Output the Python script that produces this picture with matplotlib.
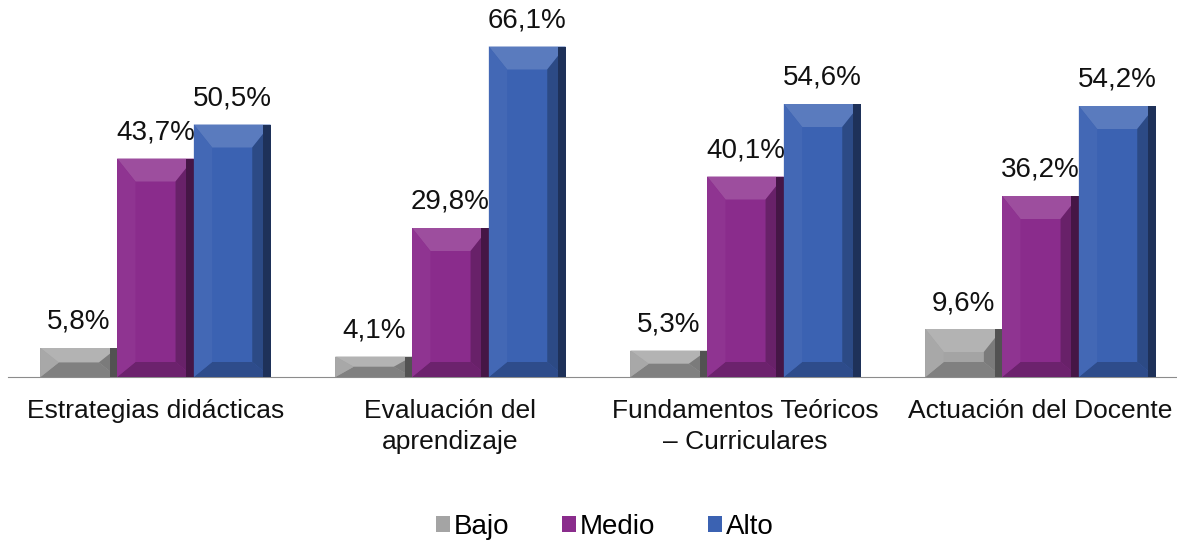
import numpy as np
import matplotlib
matplotlib.use('Agg')
import matplotlib.pyplot as plt
from matplotlib.patches import Polygon, Patch
from matplotlib.colors import to_rgb

# ============================================================
# 数据
# ============================================================
categorias = ['Estrategias didácticas', 'Evaluación del\naprendizaje',
              'Fundamentos Teóricos\n– Curriculares', 'Actuación del Docente']
bajo = [5.8, 4.1, 5.3, 9.6]
medio = [43.7, 29.8, 40.1, 36.2]
alto = [50.5, 66.1, 54.6, 54.2]
series = ['Bajo', 'Medio', 'Alto']

colores = ['#a4a4a4', '#8a2c8c', '#3b62b2']

plt.rcParams['font.family'] = ['Liberation Sans', 'DejaVu Sans']


def mezclar(c, otro, t):
    a = np.array(to_rgb(c))
    b = np.array(to_rgb(otro))
    return tuple(a * (1 - t) + b * t)


def biselar(ax, barra, color):
    """Dibuja el efecto de bisel sobre una barra"""
    x0 = barra.get_x()
    x1 = x0 + barra.get_width()
    h = barra.get_height()
    dx = 0.062
    dy = min(4.6, h / 2)
    dyb = min(3.0, h / 2)
    arriba = [(x0, h), (x1, h), (x1 - dx, h - dy), (x0 + dx, h - dy)]
    abajo = [(x0, 0), (x1, 0), (x1 - dx, dyb), (x0 + dx, dyb)]
    izq = [(x0, 0), (x0, h), (x0 + dx, h - dy), (x0 + dx, dyb)]
    der = [(x1, 0), (x1, h), (x1 - dx, h - dy), (x1 - dx, dyb)]
    caras = [(arriba, mezclar(color, 'white', 0.16)),
             (abajo, mezclar(color, 'black', 0.22)),
             (izq, mezclar(color, 'white', 0.04)),
             (der, mezclar(color, 'black', 0.25))]
    for pts, c in caras:
        ax.add_patch(Polygon(pts, closed=True, facecolor=c, edgecolor='none', zorder=3))
    # borde derecho oscuro
    ax.add_patch(Polygon([(x1 - 0.025, 0), (x1 - 0.025, h), (x1, h), (x1, 0)], closed=True,
                         facecolor=mezclar(color, 'black', 0.5), edgecolor='none', zorder=3))


fig = plt.figure(figsize=(11.77, 5.45), dpi=100)
ax = fig.add_axes([8 / 1177, 1 - 377 / 545, 1169 / 1177, 375 / 545])

x = np.arange(len(categorias))
ancho = 0.26
for i, (nombre, vals) in enumerate(zip(series, [bajo, medio, alto])):
    barras = ax.bar(x + (i - 1) * ancho, vals, ancho, color=colores[i],
                    label=nombre, zorder=2)
    for b, v in zip(barras, vals):
        biselar(ax, b, colores[i])
        ax.text(b.get_x() + b.get_width() / 2, v + 2.6, f'{v:.1f}%'.replace('.', ','),
                ha='center', va='bottom', fontsize=20, color='#111111')

ax.set_xlim(-0.5, -0.5 + 1169 / 295)
ax.set_ylim(0, 75)
for s in ['top', 'left', 'right']:
    ax.spines[s].set_visible(False)
ax.spines['bottom'].set_color('#8c8c8c')
ax.set_yticks([])
ax.set_xticks(x)
ax.set_xticklabels(categorias, fontsize=19, color='#111111', linespacing=1.35)
ax.tick_params(axis='x', length=0, pad=16)
for t in ax.get_xticklabels():
    t.set_verticalalignment('top')

handles = [Patch(facecolor=c, edgecolor='none') for c in colores]
fig.legend(handles, series, loc='center', bbox_to_anchor=(605 / 1177, 1 - 527 / 545),
           ncol=3, frameon=False, fontsize=20, handlelength=0.5, handleheight=0.5,
           handletextpad=0.15, columnspacing=1.9)

fig.savefig('out.png', dpi=100)
